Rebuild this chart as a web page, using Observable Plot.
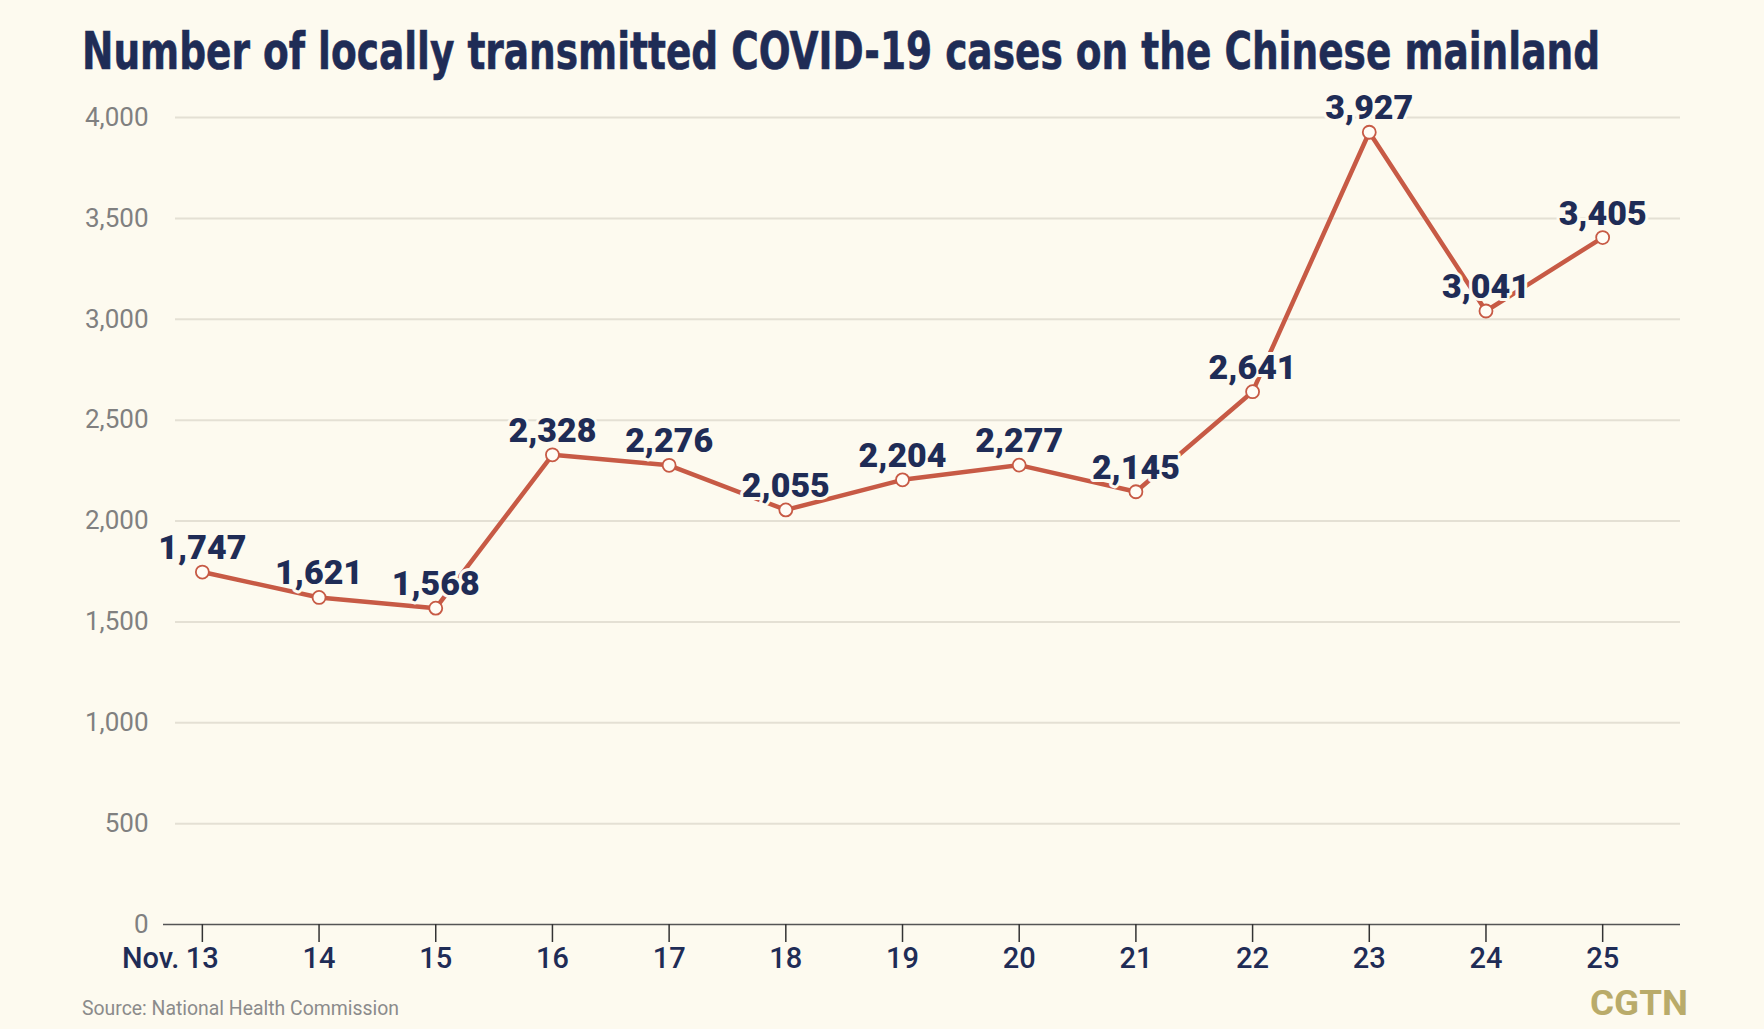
<!DOCTYPE html>
<html><head><meta charset="utf-8">
<script src="https://cdn.jsdelivr.net/npm/d3@7"></script>
<script src="https://cdn.jsdelivr.net/npm/@observablehq/plot@0.6"></script>
<style>
html,body{margin:0;padding:0;background:#fdfaef;}
#page{position:relative;width:1764px;height:1029px;overflow:hidden;background:#fdfaef;}
.fit{position:absolute;white-space:nowrap;line-height:1;transform-origin:left top;display:inline-block;}
#title{left:82px;top:25px;font-family:"Liberation Sans Narrow","DejaVu Sans Condensed","Roboto",sans-serif;font-stretch:condensed;font-weight:700;font-size:52px;color:#1f2c56;-webkit-text-stroke:0.6px #1f2c56;}
#chart{position:absolute;left:0;top:90px;}
#source{left:82px;top:998px;font-family:Roboto,sans-serif;font-size:20px;color:#8b8b8b;}
#logo{left:1590px;top:986px;font-family:Roboto,sans-serif;font-weight:700;font-size:35px;color:#b9ab6a;}
</style>
</head><body>
<div id="page">
  <div id="title" class="fit" data-w="1518">Number of locally transmitted COVID-19 cases on the Chinese mainland</div>
  <div id="chart"></div>
  <div id="source" class="fit" data-w="317">Source: National Health Commission</div>
  <div id="logo" class="fit" data-w="98">CGTN</div>
</div>
<script>
const days = [13, 14, 15, 16, 17, 18, 19, 20, 21, 22, 23, 24, 25];
const cases = [1747, 1621, 1568, 2328, 2276, 2055, 2204, 2277, 2145, 2641, 3927, 3041, 3405];
const yTicks = [0, 500, 1000, 1500, 2000, 2500, 3000, 3500, 4000];
const monthLabels = [{day: 13, label: "Nov."}];

const data = days.map((d, i) => ({day: d, cases: cases[i]}));
const bg = "#fdfaef", navy = "#1f2c56", red = "#c75a45";
const fmt = d3.format(",");

const chart = Plot.plot({
  width: 1764, height: 900,
  marginLeft: 163, marginRight: 84, marginTop: 27, marginBottom: 66,
  style: {background: "transparent", fontFamily: "Roboto, sans-serif", overflow: "visible"},
  x: {domain: [12.667, 25.667]},
  y: {domain: [0, 4000]},
  marks: [
    Plot.ruleY(yTicks.filter(v => v > 0), {stroke: "#e4e0d4", strokeWidth: 2, insetLeft: 12}),
    Plot.axisY({ticks: yTicks, tickSize: 0, tickPadding: 15, tickFormat: fmt, fontSize: 26, fill: "#808080", label: null}),
    Plot.ruleY([0], {stroke: "#555", strokeWidth: 1.5}),
    Plot.axisX({ticks: days, tickSize: 18, tickPadding: 5, stroke: "#333", strokeWidth: 1.5, fontSize: 29, fontWeight: 500, fill: navy, label: null, tickFormat: d => String(d)}),
    Plot.text(monthLabels, {x: "day", text: "label", frameAnchor: "bottom", lineAnchor: "top", textAnchor: "end", dy: 23, dx: -23, fontSize: 29, fontWeight: 500, fill: navy}),
    Plot.line(data, {x: "day", y: "cases", stroke: red, strokeWidth: 4.5}),
    Plot.text(data, {x: "day", y: "cases", text: d => fmt(d.cases), lineAnchor: "bottom", dy: -13, fontSize: 34, fontWeight: 900, fill: navy, stroke: bg, strokeWidth: 6, paintOrder: "stroke"}),
    Plot.dot(data, {x: "day", y: "cases", r: 6.5, fill: "#fffcf5", stroke: red, strokeWidth: 1.8})
  ]
});
document.getElementById("chart").appendChild(chart);

document.querySelectorAll(".fit").forEach(el => {
  const w = el.getBoundingClientRect().width;
  const target = +el.dataset.w;
  if (w > 0) el.style.transform = `scaleX(${target / w})`;
});
</script>
</body></html>
